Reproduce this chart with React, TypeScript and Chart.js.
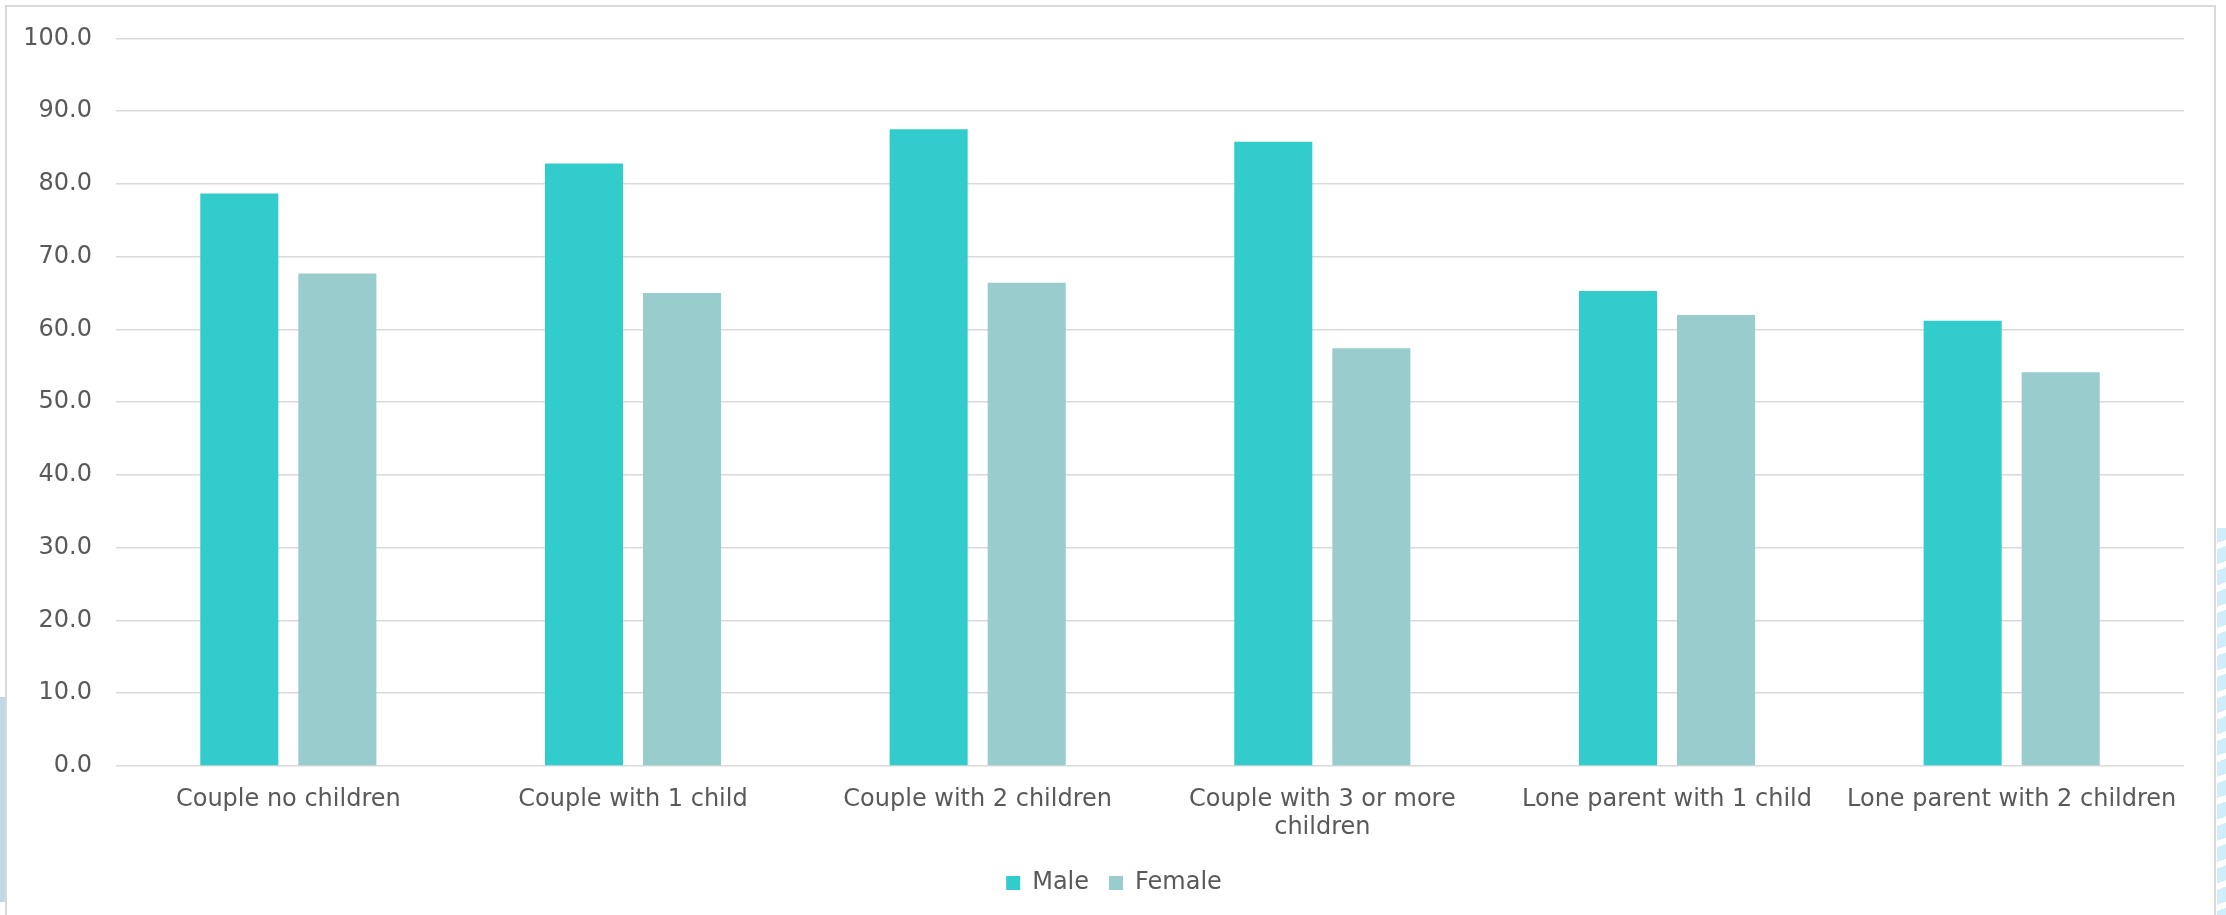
import React, { useEffect, useRef } from "react";
import { Chart, registerables } from "chart.js";

Chart.register(...registerables);

// Household types shown along the horizontal axis
const categories: (string | string[])[] = [
  "Couple no children",
  "Couple with 1 child",
  "Couple with 2 children",
  ["Couple with 3 or more", "children"],
  "Lone parent with 1 child",
  "Lone parent with 2 children",
];

const maleValues = [78.7, 82.8, 87.5, 85.8, 65.3, 61.2];
const femaleValues = [67.7, 65.0, 66.4, 57.4, 62.0, 54.1];

const yTicks = [0, 10, 20, 30, 40, 50, 60, 70, 80, 90, 100];

const MALE_COLOR = "#33CCCC";
const FEMALE_COLOR = "#99CCCC";
const TEXT_COLOR = "#595959";
const GRID_COLOR = "#D9D9D9";
const FONT = "'DejaVu Sans', Verdana, sans-serif";

// Centres the legend under the whole frame rather than under the plot only
const legendShift = {
  id: "legendShift",
  afterLayout(chart: any) {
    const lg = chart.legend;
    if (lg) {
      lg.left += 22;
      lg.right += 22;
    }
  },
};

export default function App() {
  const canvasRef = useRef<HTMLCanvasElement | null>(null);

  useEffect(() => {
    const canvas = canvasRef.current;
    if (!canvas) return;
    const chart = new Chart(canvas, {
      type: "bar",
      data: {
        labels: categories,
        datasets: [
          {
            label: "Male",
            data: maleValues,
            backgroundColor: MALE_COLOR,
            categoryPercentage: 0.569,
            barPercentage: 0.796,
          },
          {
            label: "Female",
            data: femaleValues,
            backgroundColor: FEMALE_COLOR,
            categoryPercentage: 0.569,
            barPercentage: 0.796,
          },
        ],
      },
      plugins: [legendShift],
      options: {
        animation: false,
        responsive: false,
        devicePixelRatio: 1,
        layout: { padding: { top: 35, right: 42, bottom: 10, left: 0 } },
        plugins: {
          tooltip: { enabled: false },
          legend: {
            position: "bottom",
            labels: {
              boxWidth: 14,
              boxHeight: 14,
              padding: 20,
              color: TEXT_COLOR,
              font: { family: FONT, size: 24 },
            },
          },
        },
        scales: {
          x: {
            grid: { display: false, drawTicks: false },
            border: { display: false },
            ticks: {
              color: TEXT_COLOR,
              font: { family: FONT, size: 24 },
              padding: 19,
              maxRotation: 0,
              autoSkip: false,
            },
            afterFit: (scale: any) => {
              scale.height = 85;
            },
          },
          y: {
            min: 0,
            max: 100,
            afterBuildTicks: (scale: any) => {
              scale.ticks = yTicks.map((v) => ({ value: v }));
            },
            grid: { color: GRID_COLOR, lineWidth: 1.5, drawTicks: false },
            border: { display: false },
            ticks: {
              color: TEXT_COLOR,
              font: { family: FONT, size: 24 },
              padding: 24,
              callback: (v: any) => Number(v).toFixed(1),
            },
            afterFit: (scale: any) => {
              scale.width = 116;
            },
          },
        },
      },
    });
    return () => chart.destroy();
  }, []);

  return (
    <div
      style={{
        position: "absolute",
        left: 0,
        top: 0,
        width: 2226,
        height: 915,
        overflow: "hidden",
        background: "#ffffff",
      }}
    >
      {/* neighbouring page edges */}
      <div
        style={{
          position: "absolute",
          left: 0,
          top: 697,
          width: 5,
          height: 205,
          background: "#c3d8e6",
        }}
      />
      <div
        style={{
          position: "absolute",
          left: 2217,
          top: 528,
          width: 9,
          height: 387,
          background:
            "repeating-linear-gradient(160deg, #cfeefa 0px, #cfeefa 14px, #ffffff 14px, #ffffff 20px)",
        }}
      />
      {/* chart frame */}
      <div
        style={{
          position: "absolute",
          left: 5,
          top: 5,
          width: 2207,
          height: 940,
          border: "2px solid #D9D9D9",
        }}
      />
      <canvas
        ref={canvasRef}
        width={2226}
        height={915}
        style={{ position: "absolute", left: 0, top: 0, width: 2226, height: 915 }}
      />
    </div>
  );
}
